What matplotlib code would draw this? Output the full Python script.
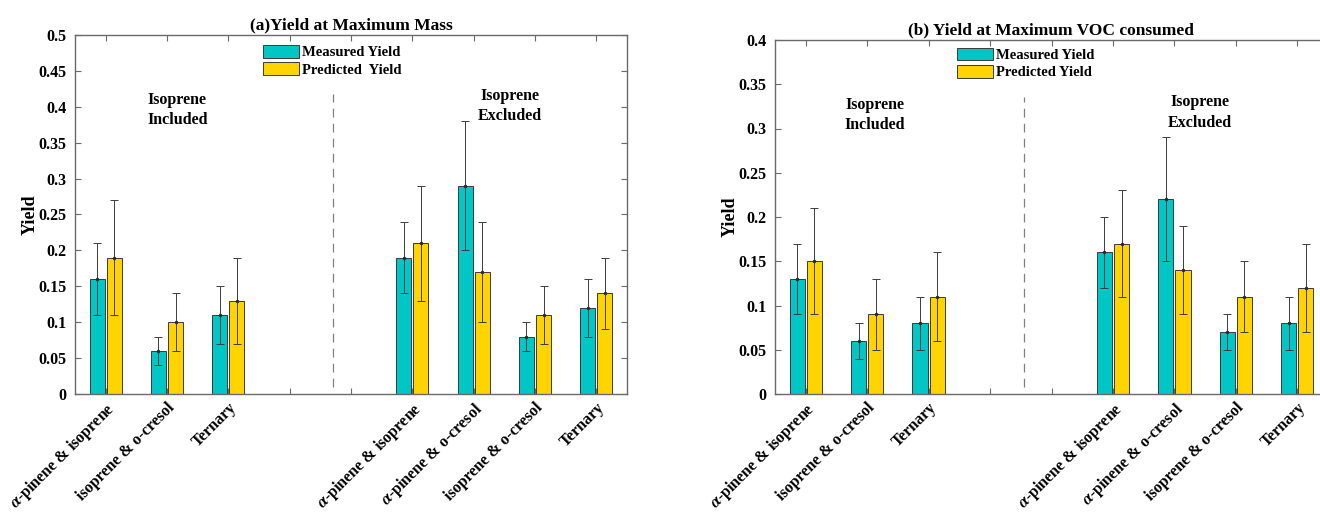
import matplotlib
matplotlib.use("Agg")
import matplotlib.pyplot as plt
import numpy as np

# ---------------- data ----------------
positions = [1, 2, 3, 6, 7, 8, 9]
tick_labels = [r"$\alpha$-pinene & isoprene", "isoprene & o-cresol", "Ternary",
               r"$\alpha$-pinene & isoprene", r"$\alpha$-pinene & o-cresol",
               "isoprene & o-cresol", "Ternary"]

a_measured = [0.16, 0.06, 0.11, 0.19, 0.29, 0.08, 0.12]
a_measured_err = [0.05, 0.02, 0.04, 0.05, 0.09, 0.02, 0.04]
a_predicted = [0.19, 0.10, 0.13, 0.21, 0.17, 0.11, 0.14]
a_predicted_err = [0.08, 0.04, 0.06, 0.08, 0.07, 0.04, 0.05]

b_measured = [0.13, 0.06, 0.08, 0.16, 0.22, 0.07, 0.08]
b_measured_err = [0.04, 0.02, 0.03, 0.04, 0.07, 0.02, 0.03]
b_predicted = [0.15, 0.09, 0.11, 0.17, 0.14, 0.11, 0.12]
b_predicted_err = [0.06, 0.04, 0.05, 0.06, 0.05, 0.04, 0.05]

# ---------------- style ----------------
plt.rcParams["font.family"] = ["Liberation Serif", "DejaVu Serif"]
plt.rcParams["font.weight"] = "bold"
plt.rcParams["mathtext.fontset"] = "stix"

CYAN = "#00C6C6"
GOLD = "#FFD400"
SPINE = "#6a6a6a"
EDGE = "#3a3a3a"

fig = plt.figure(figsize=(13.2, 5.13), dpi=100)

W, H = 1320, 513


def px_axes(x0, x1, ytop, ybot):
    return [x0 / W, (H - ybot) / H, (x1 - x0) / W, (ybot - ytop) / H]


def draw_panel(ax, measured, merr, predicted, perr, ymax, title,
               leg_xy, inc_xy, exc_xy, dash_x, dash_top, leg_labels):
    pos = np.array(positions, dtype=float)
    off = 0.14
    bw = 0.245
    ax.bar(pos - off, measured, width=bw, color=CYAN, edgecolor=EDGE,
           linewidth=0.7, label=leg_labels[0], zorder=2)
    ax.bar(pos + off, predicted, width=bw, color=GOLD, edgecolor=EDGE,
           linewidth=0.7, label=leg_labels[1], zorder=2)
    ekw = dict(fmt=".", color="#2a2a2a", ecolor="#3c3c3c", elinewidth=0.7,
               capsize=3, capthick=0.7, markersize=3, zorder=3)
    ax.errorbar(pos - off, measured, yerr=merr, **ekw)
    ax.errorbar(pos + off, predicted, yerr=perr, **ekw)

    ax.set_xlim(0.5, 9.5)
    ax.set_ylim(0, ymax)
    yt = np.round(np.arange(0, ymax + 1e-9, 0.05), 2)
    ax.set_yticks(yt)
    ax.set_yticklabels(["0" if v == 0 else ("%g" % v) for v in yt])
    ax.set_xticks(range(1, 10))
    lab = [""] * 9
    for p, t in zip(positions, tick_labels):
        lab[p - 1] = t
    ax.set_xticklabels(lab, rotation=45, ha="right", va="top",
                       rotation_mode="anchor", fontsize=11.5, fontweight="bold")
    ax.tick_params(axis="both", direction="in", length=4, width=0.8,
                   color=SPINE, top=True, right=True, labelsize=11.5, pad=6)
    ax.tick_params(axis="x", pad=4)
    for lbl in ax.get_yticklabels():
        lbl.set_fontweight("bold")
    for s in ax.spines.values():
        s.set_color(SPINE)
        s.set_linewidth(1.0)
    ax.set_ylabel("Yield", fontsize=13, fontweight="bold", labelpad=0)
    ax.set_title(title, fontsize=12.5, fontweight="bold", pad=4)

    ax.plot([dash_x, dash_x], [0.01 * ymax / 0.5, dash_top], color="#808080",
            linewidth=0.9, dashes=(7, 5), zorder=1)
    ax.text(inc_xy[0], inc_xy[1], "Isoprene\nIncluded", ha="center",
            va="center", fontsize=11.5, fontweight="bold", linespacing=1.35)
    ax.text(exc_xy[0], exc_xy[1], "Isoprene\nExcluded", ha="center",
            va="center", fontsize=11.5, fontweight="bold", linespacing=1.35)

    leg = ax.legend(loc="upper left", bbox_to_anchor=leg_xy, frameon=False,
                    borderpad=0, borderaxespad=0, handlelength=2.5,
                    handleheight=0.95, handletextpad=0.2, labelspacing=0.2,
                    prop=dict(family=["Liberation Serif"], weight="bold",
                              size=10.5))
    return leg


ax1 = fig.add_axes(px_axes(75, 627, 35, 394))
draw_panel(ax1, a_measured, a_measured_err, a_predicted, a_predicted_err,
           0.5, "(a)Yield at Maximum Mass",
           leg_xy=(0.34, 0.972), inc_xy=(2.17, 0.396), exc_xy=(7.59, 0.401),
           dash_x=4.71, dash_top=0.418,
           leg_labels=["Measured Yield", "Predicted  Yield"])

ax2 = fig.add_axes(px_axes(775, 1328, 40, 394))
draw_panel(ax2, b_measured, b_measured_err, b_predicted, b_predicted_err,
           0.4, "(b) Yield at Maximum VOC consumed",
           leg_xy=(0.329, 0.978), inc_xy=(2.12, 0.315), exc_xy=(7.42, 0.318),
           dash_x=4.56, dash_top=0.336,
           leg_labels=["Measured Yield", "Predicted Yield"])

fig.savefig("out.png", dpi=100)
